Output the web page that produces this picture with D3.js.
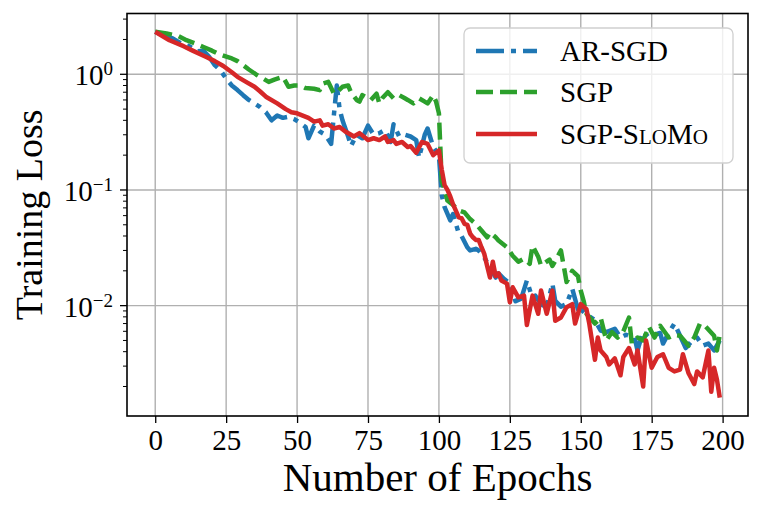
<!DOCTYPE html>
<html>
<head>
<meta charset="utf-8">
<script src="https://cdn.jsdelivr.net/npm/d3@7"></script>
<style>
  body { margin: 0; background: #fff; }
  svg { display: block; font-family: "Liberation Serif", "DejaVu Serif", serif; }
</style>
</head>
<body>
<div id="chart"></div>
<script>
// series: [epoch, training loss]
const arSgd = [[0,2.33],[3,2.15],[6,2.05],[9,1.85],[12,1.75],[15,1.58],[17,1.6],[19,1.42],[21,1.2],[23,1.08],[25,0.92],[27,0.8],[29,0.73],[31,0.66],[33,0.6],[35,0.56],[37,0.52],[39,0.47],[41,0.4],[43,0.44],[45,0.42],[47,0.43],[49,0.41],[51,0.38],[53,0.35],[54,0.28],[56,0.36],[58,0.32],[60,0.3],[62,0.25],[63,0.45],[64,0.8],[65,0.5],[66,0.4],[68,0.29],[69,0.24],[71,0.3],[73,0.28],[75,0.36],[77,0.3],[79,0.31],[81,0.33],[83,0.26],[84,0.37],[86,0.29],[88,0.3],[90,0.29],[92,0.27],[93,0.19],[95,0.3],[96,0.34],[98,0.235],[100,0.2],[101,0.09],[102,0.071],[104,0.0545],[105,0.062],[107,0.042],[108,0.04],[110,0.032],[111,0.03],[113,0.031],[114,0.03],[116,0.026],[118,0.0215],[120,0.0175],[121,0.019],[123,0.017],[125,0.0155],[127,0.0109],[129,0.0115],[131,0.0165],[133,0.0115],[134,0.0122],[136,0.0103],[138,0.0097],[140,0.0155],[141,0.011],[143,0.0098],[145,0.0103],[147,0.014],[149,0.0093],[150,0.0093],[152,0.0084],[155,0.0075],[157,0.0061],[159,0.0059],[162,0.0063],[164,0.0053],[166,0.0056],[169,0.0053],[170,0.0041],[172,0.006],[174,0.0053],[176,0.0056],[178,0.0058],[179,0.0047],[181,0.0058],[183,0.007],[185,0.0055],[187,0.0043],[189,0.0049],[191,0.0053],[193,0.0045],[195,0.0047],[197,0.0041],[199,0.005]];

const sgp = [[0,2.33],[4,2.25],[8,2.15],[11,1.97],[14,1.85],[17,1.72],[20,1.6],[22,1.51],[24,1.45],[27,1.37],[29,1.3],[31,1.2],[33,1.1],[36,0.98],[38,0.92],[40,0.86],[42,0.9],[45,0.95],[47,0.78],[49,0.8],[51,0.8],[53,0.76],[56,0.75],[58,0.73],[59,0.83],[61,0.86],[63,0.68],[64,0.7],[66,0.78],[68,0.8],[69,0.7],[71,0.6],[72,0.58],[73,0.66],[75,0.62],[76,0.6],[78,0.68],[79,0.56],[80,0.62],[82,0.7],[84,0.62],[86,0.66],[88,0.62],[89,0.6],[91,0.56],[93,0.62],[95,0.58],[96,0.56],[98,0.66],[99,0.58],[100,0.46],[101,0.12],[102,0.1],[103,0.081],[105,0.074],[107,0.0665],[109,0.064],[111,0.056],[113,0.051],[115,0.0446],[117,0.039],[118,0.043],[120,0.039],[121,0.0366],[124,0.032],[126,0.027],[128,0.024],[130,0.0255],[132,0.023],[133,0.033],[135,0.0265],[136,0.0222],[139,0.025],[140,0.022],[143,0.03],[144,0.022],[145,0.016],[147,0.02],[149,0.018],[150,0.0135],[151,0.011],[152,0.0085],[155,0.007],[157,0.0079],[159,0.005],[161,0.0059],[163,0.0053],[165,0.006],[167,0.0079],[168,0.0047],[170,0.0053],[172,0.005],[174,0.0066],[176,0.0053],[178,0.0067],[181,0.0053],[183,0.0056],[185,0.0055],[188,0.0045],[190,0.0053],[192,0.007],[194,0.0066],[197,0.0055],[198,0.0041],[199,0.0056]];

const sgpSlomo = [[0,2.33],[5,1.97],[10,1.75],[13,1.61],[18,1.41],[21,1.3],[24,1.18],[27,1.04],[29,0.95],[32,0.86],[35,0.78],[37,0.71],[39,0.64],[43,0.56],[46,0.5],[48,0.47],[50,0.46],[52,0.44],[54,0.42],[56,0.39],[58,0.4],[59,0.36],[61,0.37],[63,0.34],[65,0.35],[67,0.32],[69,0.3],[70,0.29],[72,0.31],[75,0.27],[77,0.28],[79,0.27],[81,0.29],[82,0.26],[84,0.27],[85,0.25],[87,0.26],[89,0.235],[90,0.24],[92,0.21],[94,0.26],[96,0.25],[98,0.2],[100,0.22],[101,0.15],[102,0.11],[103,0.1],[104,0.088],[105,0.075],[106,0.066],[107,0.058],[108,0.057],[109,0.051],[110,0.05],[111,0.042],[112,0.039],[113,0.037],[114,0.037],[115,0.032],[116,0.028],[117,0.022],[118,0.0175],[119,0.024],[120,0.018],[121,0.019],[122,0.0165],[124,0.0155],[125,0.0107],[126,0.0144],[128,0.0118],[130,0.0122],[131,0.0068],[133,0.0122],[135,0.0085],[136,0.0135],[138,0.0085],[140,0.0135],[141,0.0074],[143,0.0079],[145,0.0097],[147,0.0103],[148,0.007],[150,0.0103],[152,0.0093],[153,0.007],[155,0.0034],[156,0.0053],[157,0.0041],[159,0.0036],[160,0.0031],[162,0.0035],[164,0.0025],[165,0.0036],[167,0.0043],[169,0.0031],[170,0.0041],[172,0.002],[173,0.005],[175,0.0029],[177,0.0036],[179,0.0038],[181,0.0029],[183,0.0027],[185,0.0028],[186,0.0038],[188,0.0026],[190,0.0021],[191,0.0027],[193,0.0024],[195,0.0041],[196,0.0018],[197,0.0029],[198,0.0023],[199,0.0016]];

const seriesNames = ['AR-SGD', 'SGP', 'SGP-SloMo'];
const xTicks = [0, 25, 50, 75, 100, 125, 150, 175, 200];
const yTickExps = [0, -1, -2];

const width = 761, height = 513;
const margin = {left: 127, right: 13, top: 13.5, bottom: 97};

const series = [
    {name: seriesNames[0], data: arSgd, color: '#1f77b4', dash: '28,7,5,7'},
    {name: seriesNames[1], data: sgp, color: '#2ca02c', dash: '17,7'},
    {name: seriesNames[2], data: sgpSlomo, color: '#d62728', dash: null}
];

const svg = d3.select('#chart').append('svg')
    .attr('width', width)
    .attr('height', height);

// matplotlib style 5% margins (log space for y)
const all = series.flatMap(s => s.data);
const xExt = d3.extent(all, d => d[0]);
const xPad = (xExt[1] - xExt[0]) * 0.05;
const lExt = d3.extent(all, d => Math.log10(d[1]));
const lPad = (lExt[1] - lExt[0]) * 0.05;

const x = d3.scaleLinear()
    .domain([xExt[0] - xPad, xExt[1] + xPad])
    .range([margin.left, width - margin.right]);
const y = d3.scaleLog()
    .domain([Math.pow(10, lExt[0] - lPad), Math.pow(10, lExt[1] + lPad)])
    .range([height - margin.bottom, margin.top]);

const x0 = margin.left, x1 = width - margin.right;
const y0 = height - margin.bottom, y1 = margin.top;

// grid
const grid = svg.append('g').attr('stroke', '#b0b0b0').attr('stroke-width', 1.4);
xTicks.forEach(t => {
    grid.append('line').attr('x1', x(t)).attr('x2', x(t)).attr('y1', y0).attr('y2', y1);
});
yTickExps.forEach(e => {
    grid.append('line').attr('x1', x0).attr('x2', x1).attr('y1', y(Math.pow(10, e))).attr('y2', y(Math.pow(10, e)));
});

// lines
svg.append('clipPath').attr('id', 'clip')
    .append('rect').attr('x', x0).attr('y', y1).attr('width', x1 - x0).attr('height', y0 - y1);

const line = d3.line().x(d => x(d[0])).y(d => y(d[1]));
const plot = svg.append('g').attr('clip-path', 'url(#clip)');
series.forEach(s => {
    plot.append('path')
        .attr('d', line(s.data))
        .attr('fill', 'none')
        .attr('stroke', s.color)
        .attr('stroke-width', 4.5)
        .attr('stroke-linejoin', 'round')
        .attr('stroke-dasharray', s.dash);
});

// x axis
const xAxis = svg.append('g')
    .attr('transform', `translate(0,${y0})`)
    .call(d3.axisBottom(x).tickValues(xTicks).tickSize(7).tickPadding(6).tickFormat(d3.format('d')));
xAxis.select('.domain').remove();
xAxis.selectAll('line').attr('stroke', '#000').attr('stroke-width', 1.3);
xAxis.selectAll('text').attr('font-size', 29).attr('font-family', '"Liberation Serif", serif').attr('fill', '#000');

// y axis: minor ticks, then major ones with 10^n labels
const yAxis = svg.append('g').attr('transform', `translate(${x0},0)`);
const minors = [];
for (let e = -3; e <= 0; e++) {
    for (let m = 2; m <= 9; m++) {
        const v = m * Math.pow(10, e);
        if (v >= y.domain()[0] && v <= y.domain()[1]) minors.push(v);
    }
}
minors.forEach(v => {
    yAxis.append('line').attr('x1', -4).attr('x2', 0).attr('y1', y(v)).attr('y2', y(v))
        .attr('stroke', '#000').attr('stroke-width', 1);
});
yTickExps.forEach(e => {
    const ty = y(Math.pow(10, e));
    yAxis.append('line').attr('x1', -7).attr('x2', 0).attr('y1', ty).attr('y2', ty)
        .attr('stroke', '#000').attr('stroke-width', 1.3);
    const lab = yAxis.append('text')
        .attr('x', -14).attr('y', ty + 11)
        .attr('text-anchor', 'end')
        .attr('font-size', 29);
    lab.append('tspan').text('10');
    lab.append('tspan').attr('dy', -10).attr('font-size', 19).text(e === 0 ? '0' : '\u2212' + (-e));
});

// frame
svg.append('rect')
    .attr('x', x0).attr('y', y1).attr('width', x1 - x0).attr('height', y0 - y1)
    .attr('fill', 'none').attr('stroke', '#000').attr('stroke-width', 1.6);

// axis labels
svg.append('text')
    .attr('x', (x0 + x1) / 2).attr('y', 491)
    .attr('text-anchor', 'middle').attr('font-size', 41)
    .text('Number of Epochs');
svg.append('text')
    .attr('transform', `translate(42,${(y0 + y1) / 2}) rotate(-90)`)
    .attr('text-anchor', 'middle').attr('font-size', 38)
    .text('Training Loss');

// legend
const legend = svg.append('g');
legend.append('rect')
    .attr('x', 464).attr('y', 28).attr('width', 269).attr('height', 135).attr('rx', 6)
    .attr('fill', '#fff').attr('fill-opacity', 0.8)
    .attr('stroke', '#d0d0d0').attr('stroke-width', 1.3);
const rowY = [51, 92, 134];
series.forEach((s, i) => {
    legend.append('line')
        .attr('x1', 476).attr('x2', 537).attr('y1', rowY[i]).attr('y2', rowY[i])
        .attr('stroke', s.color).attr('stroke-width', 4.5)
        .attr('stroke-dasharray', s.dash);
    const t = legend.append('text').attr('x', 560).attr('y', rowY[i] + 10).attr('font-size', 29);
    if (s.name === 'SGP-SloMo') {
        // small caps for SloMo
        t.append('tspan').text('SGP-S');
        t.append('tspan').attr('font-size', 21).text('LO');
        t.append('tspan').text('M');
        t.append('tspan').attr('font-size', 21).text('O');
    } else {
        t.text(s.name);
    }
});
</script>
</body>
</html>
